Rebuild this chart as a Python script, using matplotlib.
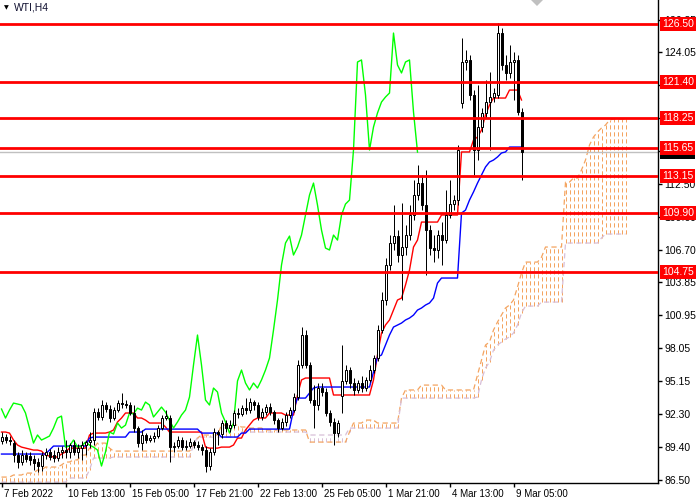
import numpy as np
import matplotlib.pyplot as plt
from matplotlib.patches import Polygon
from matplotlib.transforms import blended_transform_factory, ScaledTranslation

plt.rcParams['font.family'] = ['Liberation Sans', 'DejaVu Sans']

# WTI H4 candles, one value per bar (7 Feb 2022 - 9 Mar 2022)
opens = [89.92, 90.27, 90.01, 89.74, 88.69, 88.08, 88.69, 88.60, 88.34, 88.08,
         87.73, 88.69, 88.96, 88.69, 88.43, 88.96, 89.13, 88.96, 89.57, 88.96,
         89.30, 89.57, 89.83, 90.01, 92.46, 92.03, 93.08, 92.73, 91.94, 92.64,
         93.25, 93.17, 93.08, 92.38, 91.06, 89.74, 90.45, 90.01, 90.18, 90.36,
         91.06, 91.94, 91.94, 89.39, 89.48, 90.01, 89.39, 89.48, 89.83, 89.57,
         89.39, 89.13, 87.73, 88.96, 90.71, 90.54, 91.50, 91.06, 91.32, 92.38,
         92.29, 92.81, 92.64, 93.34, 93.08, 92.03, 92.46, 92.90, 92.46, 91.76,
         91.06, 91.59, 92.20, 92.64, 93.78, 96.59, 99.22, 96.59, 93.52, 93.08,
         94.57, 94.22, 92.38, 91.59, 90.62, 93.87, 95.19, 96.15, 95.01, 94.40,
         95.01, 94.57, 95.28, 96.15, 97.20, 99.66, 102.29, 105.36, 107.29, 107.90,
         106.24, 106.94, 107.99, 109.75, 111.50, 112.55, 110.62, 108.43, 106.85, 106.68,
         107.99, 107.55, 109.75, 110.71, 111.06, 119.58, 123.17, 123.35, 120.28, 115.45,
         117.47, 118.70, 119.66, 120.10, 120.28, 125.71, 122.91, 122.21, 123.17, 123.35,
         118.79]
highs = [90.71, 90.54, 90.36, 90.01, 88.96, 89.13, 88.96, 88.96, 88.69, 88.43,
         88.96, 89.30, 89.22, 89.13, 89.39, 89.48, 90.01, 89.74, 90.01, 89.66,
         89.92, 90.01, 90.71, 92.81, 92.81, 93.52, 93.34, 93.08, 92.90, 93.52,
         94.13, 93.52, 93.34, 93.08, 91.24, 90.89, 90.62, 90.45, 90.71, 91.32,
         92.20, 92.64, 92.20, 89.83, 90.36, 90.27, 90.01, 90.18, 90.01, 89.92,
         89.66, 89.48, 89.30, 91.06, 90.89, 91.76, 91.76, 91.76, 92.64, 92.81,
         93.08, 93.69, 93.69, 93.52, 93.34, 92.81, 93.17, 93.25, 92.64, 91.94,
         91.94, 92.46, 92.90, 94.13, 97.03, 99.92, 99.66, 96.85, 94.83, 95.01,
         95.01, 94.57, 92.64, 91.94, 91.76, 98.34, 96.59, 96.42, 95.45, 95.28,
         95.63, 95.54, 96.59, 97.47, 100.10, 102.99, 105.98, 107.99, 110.62, 108.43,
         110.80, 108.87, 110.62, 112.82, 114.13, 113.26, 113.70, 108.87, 107.99, 108.43,
         109.13, 111.94, 112.82, 111.50, 115.89, 125.28, 124.22, 123.78, 120.71, 121.15,
         119.14, 121.59, 122.29, 120.89, 126.55, 126.15, 123.78, 124.66, 124.05, 123.78,
         119.14]
lows = [89.66, 89.74, 89.57, 88.08, 87.55, 87.82, 88.08, 87.82, 87.38, 87.20,
        87.29, 88.34, 88.26, 88.08, 88.17, 88.43, 88.43, 88.43, 88.69, 88.43,
        88.26, 88.69, 89.30, 89.57, 91.76, 91.76, 92.46, 91.59, 91.76, 92.46,
        92.81, 92.81, 92.20, 90.71, 89.39, 89.13, 89.74, 89.83, 89.83, 90.18,
        90.89, 91.76, 88.08, 88.96, 89.30, 89.13, 89.13, 89.30, 89.30, 89.13,
        88.69, 87.20, 87.38, 88.69, 89.57, 90.18, 90.71, 90.71, 91.06, 91.94,
        92.11, 92.29, 92.38, 92.64, 91.76, 91.76, 92.20, 92.20, 91.41, 90.71,
        90.89, 91.24, 91.94, 92.46, 93.52, 96.33, 96.33, 93.25, 91.06, 92.64,
        93.87, 92.11, 91.24, 89.57, 90.27, 92.38, 94.92, 94.57, 93.96, 94.13,
        94.22, 94.31, 95.10, 95.89, 96.94, 99.40, 101.85, 104.92, 106.68, 105.62,
        102.29, 106.24, 107.55, 109.31, 111.06, 110.18, 104.48, 106.24, 105.62, 105.98,
        105.36, 107.29, 109.48, 110.18, 110.62, 119.14, 122.47, 119.84, 113.26, 114.57,
        117.03, 118.26, 115.45, 119.66, 120.01, 122.47, 121.59, 121.77, 119.84, 118.52,
        112.82]
closes = [90.27, 90.01, 89.92, 88.69, 88.08, 88.69, 88.34, 88.26, 87.99, 87.73,
          88.69, 88.96, 88.52, 88.43, 88.96, 89.13, 88.96, 89.57, 88.96, 89.30,
          89.57, 89.83, 90.01, 92.46, 92.03, 93.08, 92.73, 91.94, 92.64, 93.25,
          93.17, 93.08, 92.38, 91.06, 89.74, 90.45, 90.01, 90.18, 90.36, 91.06,
          91.94, 92.11, 89.39, 89.48, 90.01, 89.39, 89.48, 89.83, 89.57, 89.39,
          89.13, 87.73, 88.96, 90.71, 90.54, 91.50, 91.06, 91.32, 92.38, 92.29,
          92.81, 92.64, 93.34, 93.08, 92.03, 92.46, 92.90, 92.46, 91.76, 91.06,
          91.59, 92.20, 92.64, 93.78, 96.59, 99.22, 96.59, 93.52, 93.08, 94.57,
          94.22, 92.38, 91.59, 90.62, 91.50, 95.19, 96.15, 95.01, 94.40, 95.01,
          94.57, 95.28, 96.15, 97.20, 99.66, 102.29, 105.36, 107.29, 107.90, 106.24,
          106.94, 107.99, 109.75, 111.50, 112.55, 110.62, 108.43, 106.85, 106.68, 107.99,
          107.55, 109.75, 110.71, 111.06, 115.45, 123.17, 123.35, 120.28, 115.45, 117.47,
          118.70, 119.66, 120.10, 120.45, 125.71, 122.91, 122.21, 123.17, 123.35, 118.79,
          115.27]

# ichimoku lines
tenkan = [90.71, 90.71, 90.62, 90.01, 89.57, 89.39, 89.30, 89.22, 89.13, 89.13,
          89.04, 88.69, 88.60, 88.52, 88.52, 88.78, 88.96, 89.30, 89.30, 89.30,
          89.30, 89.30, 90.45, 90.62, 90.62, 90.62, 90.62, 90.71, 90.89, 91.59,
          91.94, 92.38, 92.38, 92.38, 91.94, 91.94, 91.76, 91.50, 91.50, 91.50,
          91.50, 91.15, 90.71, 90.71, 90.71, 90.71, 90.71, 90.71, 90.71, 90.71,
          90.71, 89.39, 89.30, 89.30, 89.30, 89.39, 89.39, 89.39, 89.57, 90.18,
          90.18, 90.89, 91.32, 91.76, 91.94, 91.94, 91.94, 92.38, 92.38, 92.38,
          92.38, 92.20, 92.20, 92.20, 93.96, 95.28, 95.45, 95.45, 95.45, 95.45,
          95.45, 95.45, 95.45, 93.96, 93.96, 93.96, 93.96, 93.96, 93.96, 93.96,
          93.96, 93.96, 93.96, 95.28, 97.47, 99.40, 100.10, 100.54, 101.41, 102.29,
          102.46, 103.61, 104.92, 106.94, 107.55, 109.13, 109.13, 109.13, 109.13, 109.13,
          109.75, 109.75, 109.75, 109.75, 109.75, 115.28, 115.28, 115.28, 116.33, 116.59,
          117.20, 118.52, 119.40, 120.01, 120.01, 120.01, 120.01, 120.71, 120.71, 120.71,
          119.84]
kijun = [88.78, 88.78, 88.78, 88.78, 88.78, 88.78, 88.78, 88.78, 88.78, 88.78,
         88.78, 88.78, 89.13, 89.48, 89.48, 89.48, 89.48, 89.48, 89.48, 89.48,
         89.48, 89.48, 90.18, 90.27, 90.27, 90.27, 90.27, 90.27, 90.27, 90.27,
         90.27, 90.27, 90.71, 90.71, 90.71, 90.71, 90.97, 90.97, 90.97, 90.97,
         90.97, 90.97, 90.97, 90.97, 90.97, 90.97, 90.97, 90.97, 90.97, 90.97,
         90.62, 90.62, 90.62, 90.62, 90.62, 90.27, 90.27, 90.27, 90.27, 90.27,
         90.62, 90.62, 90.97, 90.97, 90.97, 90.97, 90.97, 90.97, 90.97, 90.97,
         90.97, 90.97, 90.97, 92.64, 93.69, 93.69, 93.69, 94.13, 94.57, 94.66,
         94.66, 94.66, 94.66, 94.66, 94.66, 94.66, 94.66, 94.66, 94.66, 94.66,
         94.66, 94.66, 94.66, 95.97, 97.29, 97.47, 98.34, 99.22, 99.92, 100.10,
         100.27, 100.54, 100.71, 100.97, 101.41, 101.59, 101.85, 102.03, 102.46, 103.78,
         104.22, 104.22, 104.22, 104.22, 104.22, 109.92, 110.18, 111.06, 111.77, 112.55,
         113.26, 113.96, 114.40, 114.57, 114.84, 115.19, 115.28, 115.71, 115.71, 115.71,
         115.71]
# senkou spans, already placed 26 bars ahead (157 values)
span_a = [86.76, 86.76, 86.76, 86.94, 86.94, 86.94, 87.11, 87.11, 87.11, 87.38,
          87.38, 87.64, 87.64, 87.64, 87.64, 87.82, 88.08, 88.08, 88.26, 88.26,
          88.69, 88.69, 89.30, 89.30, 89.74, 89.74, 89.74, 89.30, 89.04, 89.04,
          89.04, 89.04, 89.04, 89.04, 89.04, 89.04, 89.04, 89.04, 89.04, 89.04,
          89.04, 89.04, 89.04, 89.04, 89.04, 89.04, 89.04, 89.04, 89.57, 90.18,
          90.45, 90.45, 90.45, 90.45, 90.45, 91.32, 91.32, 91.32, 91.32, 91.32,
          91.15, 91.15, 91.06, 91.06, 91.06, 91.06, 90.89, 90.89, 90.89, 90.89,
          90.89, 90.89, 90.89, 90.89, 90.89, 90.89, 90.89, 89.83, 89.83, 89.83,
          89.83, 89.83, 89.83, 89.83, 89.83, 89.83, 89.83, 90.71, 91.50, 91.50,
          91.50, 91.76, 91.76, 91.76, 91.50, 91.50, 91.50, 91.50, 91.50, 91.50,
          93.69, 94.40, 94.40, 94.40, 94.40, 94.83, 94.83, 94.83, 94.83, 94.83,
          94.83, 94.40, 94.40, 94.40, 94.40, 94.40, 94.40, 94.40, 94.40, 95.71,
          97.03, 98.34, 98.61, 99.66, 100.36, 100.97, 101.59, 101.85, 102.29, 103.43,
          104.66, 105.62, 105.62, 105.62, 105.62, 106.05, 106.94, 106.94, 106.94, 106.94,
          106.94, 112.64, 112.64, 112.99, 112.99, 113.70, 114.57, 115.89, 116.59, 117.03,
          117.38, 117.64, 118.08, 118.17, 118.17, 118.17, 118.17]
span_b = [86.32, 86.32, 86.32, 86.32, 86.32, 86.32, 86.32, 86.32, 86.32, 86.32,
          86.32, 86.32, 86.32, 86.32, 86.32, 86.32, 86.32, 86.68, 86.68, 86.68,
          86.68, 86.68, 87.38, 88.43, 88.43, 88.43, 88.43, 88.43, 88.52, 88.52,
          88.52, 88.52, 88.52, 88.52, 88.52, 88.52, 88.52, 88.52, 88.52, 88.52,
          88.52, 88.52, 88.52, 88.52, 88.52, 88.52, 88.52, 88.52, 89.57, 90.27,
          90.27, 90.27, 90.27, 90.27, 90.27, 90.27, 90.27, 90.27, 90.27, 90.27,
          90.71, 90.71, 90.71, 90.71, 90.71, 90.71, 90.71, 90.71, 90.71, 90.71,
          90.71, 90.71, 90.71, 90.71, 90.71, 90.71, 90.71, 90.45, 90.45, 90.45,
          90.45, 90.45, 90.45, 90.45, 90.45, 90.45, 90.45, 91.06, 91.06, 91.06,
          91.06, 91.06, 91.06, 91.06, 91.06, 91.06, 91.06, 91.06, 91.06, 91.06,
          93.69, 93.69, 93.69, 93.69, 93.69, 93.69, 93.69, 93.69, 93.69, 93.69,
          93.69, 93.69, 93.69, 93.69, 93.69, 93.69, 93.69, 93.69, 93.69, 93.78,
          95.28, 96.33, 96.85, 97.90, 98.34, 98.61, 98.87, 99.05, 99.40, 100.10,
          101.15, 101.76, 101.76, 101.76, 101.76, 102.11, 102.11, 102.11, 102.11, 102.11,
          102.11, 107.29, 107.29, 107.29, 107.29, 107.29, 107.29, 107.29, 107.29, 107.29,
          107.73, 108.08, 108.08, 108.08, 108.08, 108.08, 108.08]

levels = [126.50, 121.40, 118.25, 115.65, 113.15, 109.90, 104.75]
last_price = 115.26
price_ticks = [86.50, 89.40, 92.30, 95.15, 98.05, 100.95, 103.85, 106.70,
               109.60, 112.50, 115.35, 118.25, 121.15, 124.05, 126.85]
hidden_ticks = [115.35, 118.25]  # fully covered by the price boxes
date_ticks = [0, 16, 32, 48, 64, 80, 96, 112, 128]
date_labels = ['7 Feb 2022', '10 Feb 13:00', '15 Feb 05:00', '17 Feb 21:00',
               '22 Feb 13:00', '25 Feb 05:00', '1 Mar 21:00', '4 Mar 13:00',
               '9 Mar 05:00']
shift = 26

o = np.array(opens)
h = np.array(highs)
l = np.array(lows)
c = np.array(closes)
a = np.array(span_a)
b = np.array(span_b)
x = np.arange(len(c))
xs = np.arange(len(a))

fig = plt.figure(figsize=(7, 5), dpi=100)
ax = fig.add_axes([0, 17 / 500, 658 / 700, 483 / 500])
# 4 px per bar, bar centres on pixel centres
ax.set_xlim(-0.375, 164.125)
ax.set_ylim(86.24, 128.61)

# cloud: dotted vertical strokes between the two spans
bull = a >= b
dots = (0, (4.2, 2.8))
ax.vlines(xs[bull], b[bull], a[bull], colors='#F4A460', linestyles=dots, lw=0.72, zorder=1)
ax.vlines(xs[~bull], a[~bull], b[~bull], colors='#D8BFD8', linestyles=dots, lw=0.72, zorder=1)
ax.plot(xs, a, color='#F4A460', ls=dots, lw=0.9, zorder=1)
ax.plot(xs, b, color='#D8BFD8', ls=dots, lw=0.9, zorder=1)

ax.axhline(last_price, color='#C0C0C0', lw=1, zorder=1.5)

ax.plot(x, tenkan, color='#FF0000', lw=1, zorder=2)
ax.plot(x, kijun, color='#0000FF', lw=1, zorder=2)
ax.plot(x[shift:] - shift, c[shift:], color='#00FF00', lw=1, zorder=2)

# candles
up = c >= o
ax.vlines(x, l, h, color='black', lw=0.72, zorder=4)
ax.bar(x[up], (c - o)[up], bottom=o[up], width=0.5, color='white',
       edgecolor='black', lw=0.72, zorder=5)
ax.bar(x[~up], (o - c)[~up], bottom=c[~up], width=0.5, color='black',
       edgecolor='black', lw=0.72, zorder=5)

for lv in levels:
    ax.axhline(lv, color='#FF0000', lw=2, zorder=8)

for side in ['top', 'left']:
    ax.spines[side].set_visible(False)
for side in ['right', 'bottom']:
    ax.spines[side].set_linewidth(1)

ax.yaxis.tick_right()
ax.set_yticks(price_ticks)
ax.set_yticklabels(['' if v in hidden_ticks else '%.2f' % v for v in price_ticks])
ax.tick_params(axis='y', direction='out', length=3, width=1, pad=1.5, labelsize=7.5)
ax.set_xticks(date_ticks)
ax.set_xticklabels(date_labels)
ax.tick_params(axis='x', direction='out', length=3, width=1, pad=1, labelsize=7)
nudge = ScaledTranslation(2 / 100, 0, fig.dpi_scale_trans)
for t in ax.get_xticklabels():
    t.set_ha('left')
    t.set_transform(t.get_transform() + nudge)

# price labels on the right scale
tr = blended_transform_factory(ax.transAxes, ax.transData) + ScaledTranslation(4 / 100, 0, fig.dpi_scale_trans)
ax.text(1, last_price, '%.2f' % last_price, transform=tr, ha='left', va='center',
        fontsize=7.5, color='white', clip_on=False, zorder=9,
        bbox=dict(boxstyle='square,pad=0.2', fc='black', ec='none'))
for lv in levels:
    ax.text(1, lv, '%.2f' % lv, transform=tr, ha='left', va='center',
            fontsize=7.5, color='white', clip_on=False, zorder=10,
            bbox=dict(boxstyle='square,pad=0.2', fc='#FF0000', ec='none'))

fig.text(4 / 700, 1 - 8 / 500, '\u25bc', fontsize=4.5, va='center', family='DejaVu Sans')
fig.text(14 / 700, 1 - 8 / 500, 'WTI,H4', fontsize=7.5, va='center', color='#101030')
fig.patches.append(Polygon([(531 / 700, 1), (543 / 700, 1), (537 / 700, 1 - 6 / 500)],
                           closed=True, transform=fig.transFigure, fc='#C0C0C0', ec='none'))

fig.savefig('out.png', dpi=100)
